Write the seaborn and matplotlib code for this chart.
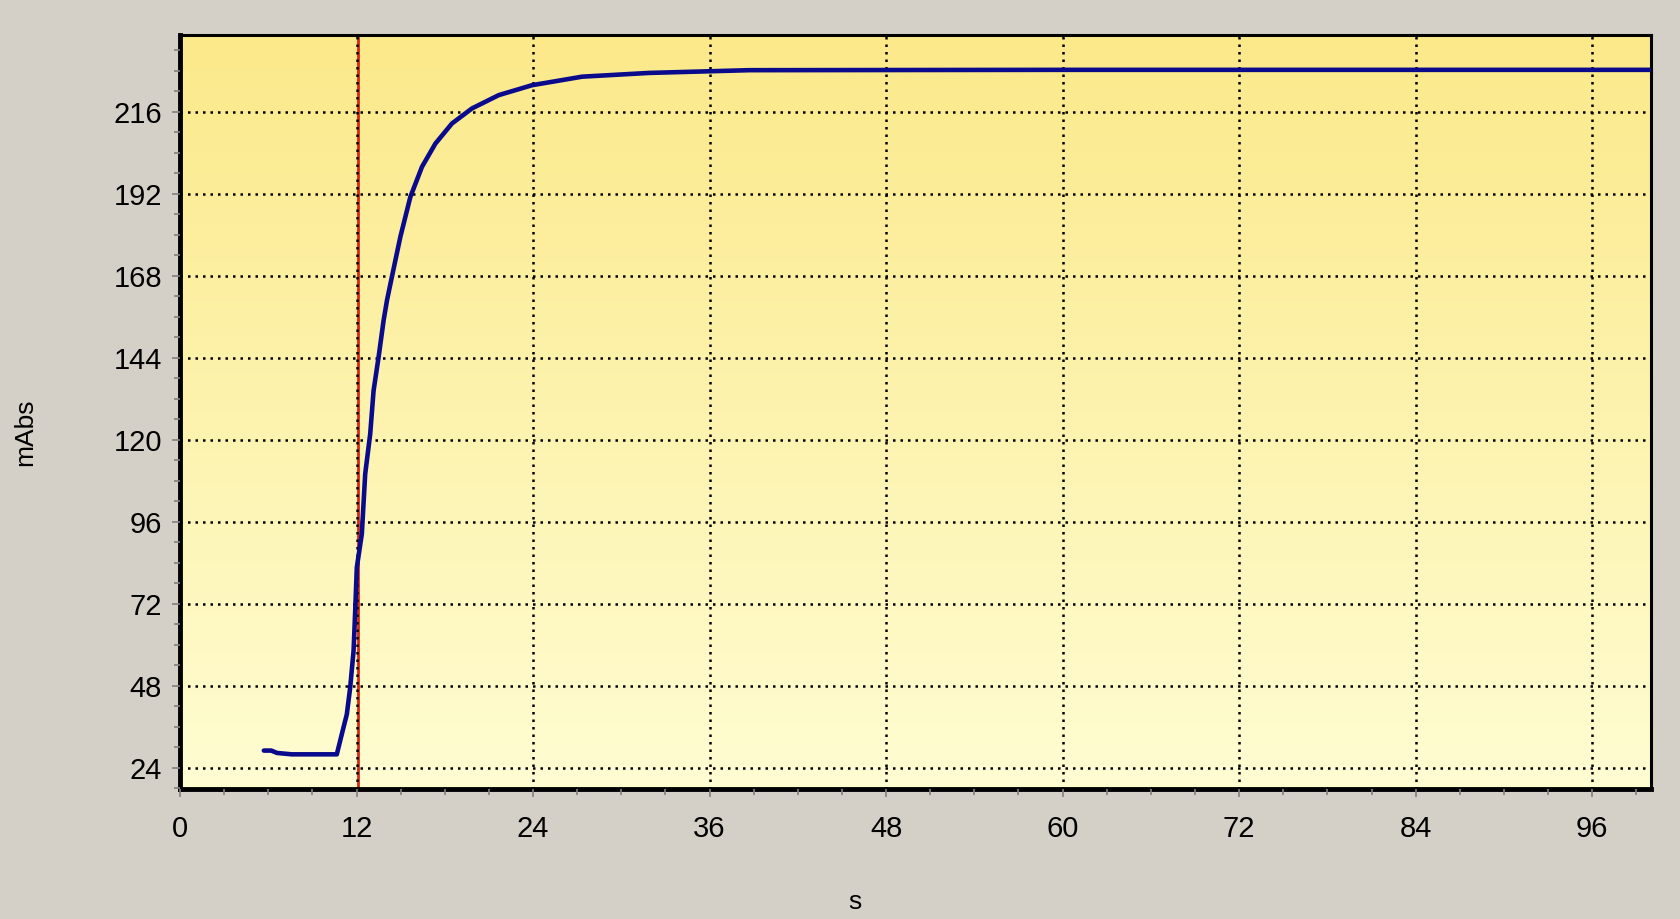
import numpy as np
import pandas as pd
import matplotlib
matplotlib.use("Agg")
import matplotlib.pyplot as plt
from matplotlib.colors import LinearSegmentedColormap
from matplotlib.ticker import MultipleLocator
import seaborn as sns

# ---- data ----
time_s = [5.7, 6.2, 6.6, 7.6, 9.0, 10.66, 11.0, 11.34, 11.57, 11.8, 11.91, 12.02,
          12.36, 12.59, 12.93, 13.16, 13.5, 13.84, 14.07, 14.4, 14.98, 15.66,
          16.45, 17.36, 18.49, 19.85, 21.67, 23.93, 27.34, 31.9, 38.7, 60.0, 100.0]
absorbance_mAbs = [29.0, 29.0, 28.3, 27.9, 27.9, 27.9, 33.8, 39.6, 47.5, 58.2, 69.9, 82.6,
                   92.4, 110.0, 121.7, 134.4, 144.2, 154.9, 160.8, 167.6, 179.4, 191.1,
                   199.9, 206.7, 212.6, 217.0, 220.9, 223.8, 226.3, 227.4, 228.2, 228.3, 228.3]
marker_time = 12.1
x_ticks = [0, 12, 24, 36, 48, 60, 72, 84, 96]
y_ticks = [24, 48, 72, 96, 120, 144, 168, 192, 216]
x_label = "s"
y_label = "mAbs"

df = pd.DataFrame({"t": time_s, "a": absorbance_mAbs})

sns.set_theme(style="white")
plt.rcParams["font.family"] = ["Liberation Sans", "DejaVu Sans"]

fig = plt.figure(figsize=(16.8, 9.19), dpi=100, facecolor="#D4D0C8")
ax = fig.add_axes([180 / 1680, 1 - 789 / 919, (1651 - 180) / 1680, (789 - 35) / 919])

# gradient background
cmap = LinearSegmentedColormap.from_list("bg", ["#FFFDD2", "#FBE98A"])
grad = np.linspace(0, 1, 256).reshape(-1, 1)
ax.imshow(grad, aspect="auto", cmap=cmap, origin="lower",
          extent=[0, 1, 0, 1], transform=ax.transAxes, zorder=0)

ax.set_xlim(0, 100)
ax.set_ylim(17.75, 238.5)

ax.set_xticks(x_ticks)
ax.set_yticks(y_ticks)
ax.xaxis.set_minor_locator(MultipleLocator(3))
ax.yaxis.set_minor_locator(MultipleLocator(6))

ax.grid(True, which="major", color="black", linestyle=(0, (1, 2)), linewidth=1.8, zorder=1)
ax.set_axisbelow(False)

ax.axvline(marker_time, color="#D42A14", linewidth=2.0, zorder=2)

sns.lineplot(data=df, x="t", y="a", ax=ax, color="#0A0A8C", linewidth=3.3, zorder=3)

ax.tick_params(axis="both", which="major", direction="out", length=6, width=1.2,
               color="#808080", labelsize=21, labelcolor="black",
               bottom=True, left=True)
ax.tick_params(axis="x", which="major", pad=13)
ax.tick_params(axis="y", which="major", pad=7)
ax.tick_params(axis="both", which="minor", direction="out", length=4, width=1.2,
               color="#808080", bottom=True, left=True)

for side in ["left", "bottom"]:
    ax.spines[side].set_linewidth(3.5)
    ax.spines[side].set_color("black")
for side in ["top", "right"]:
    ax.spines[side].set_linewidth(2.2)
    ax.spines[side].set_color("black")
    ax.spines[side].set_visible(True)

ax.set_xlabel("")
ax.set_ylabel("")
fig.text(25 / 1680, 1 - 432 / 919, y_label, rotation=90, ha="center", va="center",
         fontsize=19, color="black")
fig.text(855 / 1680, 1 - 902 / 919, x_label, ha="center", va="center",
         fontsize=19, color="black")

fig.savefig("out.png", dpi=100, facecolor=fig.get_facecolor())
